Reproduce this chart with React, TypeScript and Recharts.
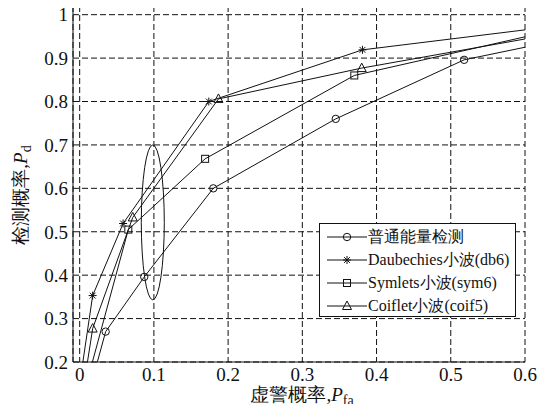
import { CartesianGrid, ComposedChart, Label, Line, ReferenceArea, XAxis, YAxis } from "recharts";

const W = 553;
const H = 412;

const X_TICKS = [0, 0.1, 0.2, 0.3, 0.4, 0.5, 0.6];
const Y_TICKS = [0.2, 0.3, 0.4, 0.5, 0.6, 0.7, 0.8, 0.9, 1];

// first / last points sit outside the frame, they only make the lines run out of the box
const energyPfa = [0.015, 0.035, 0.087, 0.18, 0.345, 0.518, 0.6];
const energyPd = [0.145, 0.27, 0.396, 0.6, 0.76, 0.896, 0.925];

const db6Pfa = [0, 0.0175, 0.0585, 0.174, 0.381, 0.6];
const db6Pd = [0.15, 0.353, 0.519, 0.8, 0.919, 0.965];

const sym6Pfa = [0.01, 0.0655, 0.169, 0.37, 0.6];
const sym6Pd = [0.155, 0.505, 0.668, 0.86, 0.949];

const coif5Pfa = [0.005, 0.0175, 0.0715, 0.187, 0.38, 0.6];
const coif5Pd = [0.14, 0.277, 0.533, 0.806, 0.877, 0.944];

// ellipse around the pfa ~ 0.1 crossing
const ELLIPSE_PFA = [0.083, 0.114];
const ELLIPSE_PD = [0.343, 0.7];

type Kind = "circle" | "star" | "square" | "triangle";
type Pt = { x: number; y: number };

const zip = (xs: number[], ys: number[]): Pt[] => xs.map((x, i) => ({ x, y: ys[i] }));

const SERIES: { key: string; name: string; kind: Kind; data: Pt[] }[] = [
  { key: "energy", name: "普通能量检测", kind: "circle", data: zip(energyPfa, energyPd) },
  { key: "db6", name: "Daubechies小波(db6)", kind: "star", data: zip(db6Pfa, db6Pd) },
  { key: "sym6", name: "Symlets小波(sym6)", kind: "square", data: zip(sym6Pfa, sym6Pd) },
  { key: "coif5", name: "Coiflet小波(coif5)", kind: "triangle", data: zip(coif5Pfa, coif5Pd) },
];

const FONT = "Liberation Serif";
const INK = "#111";

function Marker({ kind, cx, cy }: { kind: Kind; cx: number; cy: number }) {
  const common = { fill: "none", stroke: INK, strokeWidth: 1 };
  if (kind === "circle") return <circle cx={cx} cy={cy} r={3.7} {...common} />;
  if (kind === "square") return <rect x={cx - 3.5} y={cy - 3.5} width={7} height={7} {...common} />;
  if (kind === "triangle")
    return <polygon points={`${cx},${cy - 5} ${cx - 4.5},${cy + 3.5} ${cx + 4.5},${cy + 3.5}`} {...common} />;
  const d = 4;
  const e = 2.9;
  return (
    <g {...common}>
      <line x1={cx - d} y1={cy} x2={cx + d} y2={cy} />
      <line x1={cx} y1={cy - d} x2={cx} y2={cy + d} />
      <line x1={cx - e} y1={cy - e} x2={cx + e} y2={cy + e} />
      <line x1={cx - e} y1={cy + e} x2={cx + e} y2={cy - e} />
    </g>
  );
}

const inFrame = (p: Pt) => p.y >= 0.2 && p.x < 0.6;

function Ellipse(props: any) {
  const { x, y, width, height } = props;
  return (
    <ellipse
      cx={x + width / 2}
      cy={y + height / 2}
      rx={width / 2}
      ry={height / 2}
      fill="none"
      stroke={INK}
      strokeWidth={1}
    />
  );
}

function XTitle(props: any) {
  const vb = props.viewBox ?? { x: 73, y: 362, width: 452, height: 50 };
  return (
    <text x={vb.x + vb.width / 2 + 3} y={vb.y + 39} textAnchor="middle" fontFamily={FONT} fontSize={19} fill={INK}>
      虚警概率,
      <tspan fontStyle="italic">P</tspan>
      <tspan fontSize={14} dy={4}>
        fa
      </tspan>
    </text>
  );
}

function YTitle() {
  return (
    <text
      x={0}
      y={0}
      transform="translate(27,195) rotate(-90)"
      textAnchor="middle"
      fontFamily={FONT}
      fontSize={19}
      fill={INK}
    >
      检测概率,
      <tspan fontStyle="italic">P</tspan>
      <tspan fontSize={14} dy={4}>
        d
      </tspan>
    </text>
  );
}

function LegendBox() {
  return (
    <div
      style={{
        position: "absolute",
        left: 319,
        top: 223,
        width: 197,
        height: 94,
        border: `1px solid ${INK}`,
        background: "#fff",
        fontFamily: FONT,
        fontSize: 16,
        color: INK,
        boxSizing: "border-box",
        paddingTop: 1,
      }}
    >
      {SERIES.map((s) => (
        <div key={s.key} style={{ display: "flex", alignItems: "center", height: 23 }}>
          <svg width={48} height={14} style={{ marginLeft: 7, flex: "none" }}>
            <line x1={0} y1={7} x2={40} y2={7} stroke={INK} strokeWidth={1} />
            <Marker kind={s.kind} cx={20} cy={7} />
          </svg>
          <span style={{ marginLeft: -7, whiteSpace: "nowrap", lineHeight: "23px" }}>{s.name}</span>
        </div>
      ))}
    </div>
  );
}

const tickStyle = { fontFamily: FONT, fontSize: 19, fill: INK };

export default function App() {
  return (
    <div style={{ position: "relative", width: W, height: H, margin: -8, background: "#fff" }}>
      <ComposedChart width={W} height={H} margin={{ top: 6, right: 28, bottom: 0, left: 0 }}>
        <CartesianGrid stroke={INK} strokeDasharray="6 3" strokeWidth={1} />
        <XAxis
          type="number"
          dataKey="x"
          domain={[-0.009, 0.6]}
          allowDataOverflow
          ticks={X_TICKS}
          tickFormatter={(v: number) => String(v)}
          height={50}
          tickLine={false}
          tickSize={0}
          tickMargin={6}
          axisLine={{ stroke: INK }}
          tick={tickStyle}
        >
          <Label content={<XTitle />} />
        </XAxis>
        <XAxis
          xAxisId="top"
          orientation="top"
          type="number"
          domain={[-0.009, 0.6]}
          allowDataOverflow
          ticks={X_TICKS}
          height={0}
          mirror
          tick={false}
          tickSize={5}
          axisLine={{ stroke: INK }}
          tickLine={{ stroke: INK }}
        />
        <YAxis
          type="number"
          domain={[0.2, 1.02]}
          allowDataOverflow
          ticks={Y_TICKS}
          tickFormatter={(v: number) => String(v)}
          width={73}
          tickLine={false}
          tickSize={0}
          tickMargin={5}
          axisLine={{ stroke: INK }}
          tick={tickStyle}
        >
          <Label content={<YTitle />} />
        </YAxis>
        <YAxis
          yAxisId="right"
          orientation="right"
          type="number"
          domain={[0.2, 1.02]}
          allowDataOverflow
          ticks={Y_TICKS}
          width={0}
          mirror
          tick={false}
          tickSize={5}
          axisLine={{ stroke: INK }}
          tickLine={{ stroke: INK }}
        />
        <ReferenceArea
          x1={ELLIPSE_PFA[0]}
          x2={ELLIPSE_PFA[1]}
          y1={ELLIPSE_PD[0]}
          y2={ELLIPSE_PD[1]}
          shape={<Ellipse />}
        />
        {SERIES.map((s) => (
          <Line
            key={s.key}
            data={s.data}
            dataKey="y"
            name={s.name}
            type="linear"
            stroke={INK}
            strokeWidth={1}
            isAnimationActive={false}
            legendType="none"
            dot={(p: any) =>
              inFrame(p.payload) ? (
                <Marker key={`${s.key}-${p.index}`} kind={s.kind} cx={p.cx} cy={p.cy} />
              ) : (
                <g key={`${s.key}-${p.index}`} />
              )
            }
            activeDot={false}
          />
        ))}
      </ComposedChart>
      <LegendBox />
    </div>
  );
}
